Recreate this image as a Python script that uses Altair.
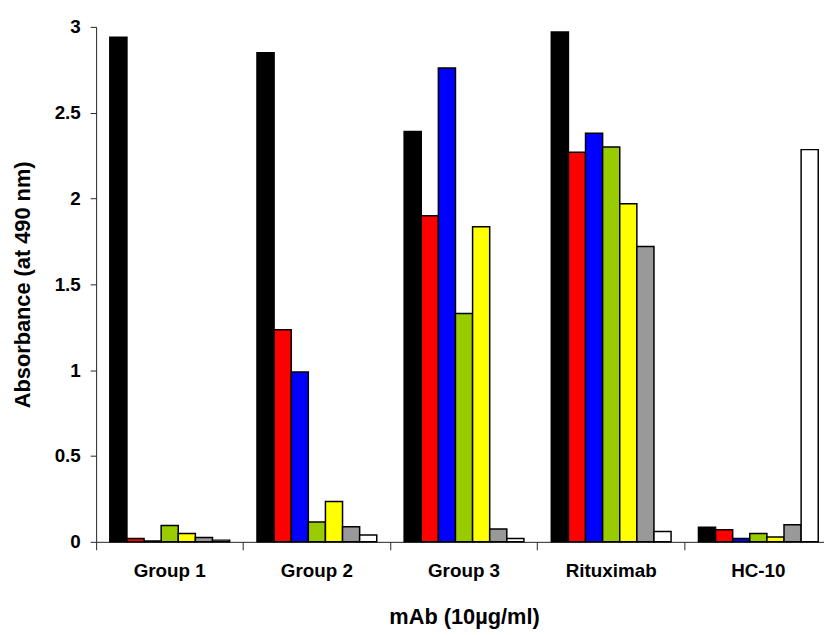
import altair as alt
import pandas as pd

groups = ["Group 1", "Group 2", "Group 3", "Rituximab", "HC-10"]
series = ["s1", "s2", "s3", "s4", "s5", "s6", "s7"]
colors = ["#000000", "#FF0000", "#0000FF", "#99CC00", "#FFFF00", "#999999", "#FFFFFF"]

s1 = [2.94, 2.85, 2.39, 2.97, 0.085]
s2 = [0.02, 1.235, 1.90, 2.27, 0.07]
s3 = [0.005, 0.99, 2.76, 2.38, 0.02]
s4 = [0.095, 0.115, 1.33, 2.30, 0.048]
s5 = [0.048, 0.235, 1.835, 1.97, 0.028]
s6 = [0.025, 0.088, 0.075, 1.72, 0.10]
s7 = [0.01, 0.04, 0.02, 0.06, 2.285]

values = [s1, s2, s3, s4, s5, s6, s7]
rows = []
for name, vals in zip(series, values):
    for g, v in zip(groups, vals):
        rows.append({"group": g, "series": name, "value": v})
df = pd.DataFrame(rows)

FONT = "Liberation Sans"

chart = alt.Chart(df).mark_bar(stroke="#000000", strokeWidth=1.5).encode(
    x=alt.X(
        "group:N",
        sort=groups,
        scale=alt.Scale(range=[0, 743], paddingInner=0, paddingOuter=0),
        axis=alt.Axis(
            title="mAb (10µg/ml)",
            labelAngle=0,
            bandPosition=0,
            tickSize=8,
            labelPadding=12,
            titlePadding=26,
            grid=False,
        ),
    ),
    xOffset=alt.XOffset(
        "series:N", sort=series, scale=alt.Scale(paddingInner=0, paddingOuter=0.8)
    ),
    y=alt.Y(
        "value:Q",
        scale=alt.Scale(domain=[0, 3], nice=False),
        axis=alt.Axis(
            title="Absorbance (at 490 nm)",
            values=[0, 0.5, 1, 1.5, 2, 2.5, 3],
            format="~g",
            tickSize=6,
            labelPadding=10,
            titlePadding=20,
            grid=False,
        ),
    ),
    color=alt.Color(
        "series:N", sort=series, scale=alt.Scale(domain=series, range=colors), legend=None
    ),
).properties(
    width=735,
    height=520,
    autosize=alt.AutoSizeParams(type="none"),
    padding={"left": 89, "top": 16, "right": 0, "bottom": 92},
).configure_view(stroke=None).configure_axis(
    domainColor="#222222",
    domainWidth=1,
    tickColor="#222222",
    tickWidth=1,
    labelFont=FONT,
    labelFontSize=19,
    labelFontWeight="bold",
    labelColor="#000000",
    titleFont=FONT,
    titleFontSize=22,
    titleFontWeight="bold",
    titleColor="#000000",
)

chart.save("out.html", embed_options={"renderer": "svg", "actions": False})
